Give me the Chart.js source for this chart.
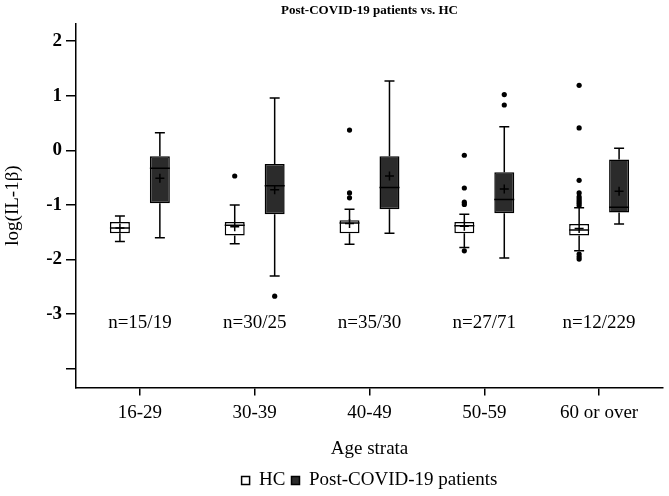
<!DOCTYPE html>
<html>
<head>
<meta charset="utf-8">
<title>Post-COVID-19 patients vs. HC</title>
<script src="https://cdn.jsdelivr.net/npm/chart.js@4.4.1/dist/chart.umd.min.js"></script>
<style>
  html, body { margin: 0; padding: 0; background: #fff; }
</style>
</head>
<body>
<canvas id="boxChart" width="669" height="496"></canvas>
<script>
// === data (log(IL-1β)) ===
const ageGroups = ["16-29", "30-39", "40-49", "50-59", "60 or over"];
const nLabels = ["n=15/19", "n=30/25", "n=35/30", "n=27/71", "n=12/229"];

// healthy controls
const hcLow    = [-1.67, -1.71, -1.72, -1.78, -1.84];
const hcQ1     = [-1.52, -1.56, -1.52, -1.52, -1.56];
const hcMedian = [-1.42, -1.37, -1.33, -1.38, -1.46];
const hcQ3     = [-1.31, -1.31, -1.28, -1.31, -1.35];
const hcHigh   = [-1.20, -1.00, -1.08, -1.17, -1.05];
const hcMean   = [-1.42, -1.40, -1.34, -1.39, -1.43];
const hcOutliers = [
    [],
    [-0.47],
    [0.37, -0.78, -0.87],
    [-0.09, -0.69, -0.95, -0.99, -1.84],
    [1.19, 0.41, -0.55, -0.78, -0.85, -0.89, -0.93, -0.97, -1.01, -1.90, -1.95, -1.99]
];

// post-COVID-19 patients
const pcLow    = [-1.60, -2.30, -1.52, -1.97, -1.35];
const pcQ1     = [-0.97, -1.17, -1.08, -1.15, -1.14];
const pcMedian = [-0.33, -0.65, -0.68, -0.90, -1.04];
const pcQ3     = [-0.11, -0.25, -0.11, -0.40, -0.17];
const pcHigh   = [0.32, 0.96, 1.27, 0.43, 0.04];
const pcMean   = [-0.51, -0.72, -0.47, -0.71, -0.75];
const pcOutliers = [[], [-2.67], [], [1.02, 0.83], []];

const yTicks = [-4, -3, -2, -1, 0, 1, 2];

// === layout constants ===
const BOX_SHIFT = 0.174;      // box centre offset from the category, in category units
const N_LABEL_VALUE = -3.17;  // y value where the n= labels sit
const FONT = "'Liberation Serif', 'Times New Roman', serif";

Chart.defaults.font.family = FONT;
Chart.defaults.color = "#000";

// helpers
const boxData = (q1, q3) => q1.map((v, i) => ({ x: i, y: [v, q3[i]] }));
const pointData = (vals, shift) => vals.map((v, i) => ({ x: i + shift, y: v }));
const outlierData = (groups, shift) =>
    groups.flatMap((vals, i) => vals.map(v => ({ x: i + shift, y: v })));

// whiskers, medians and n= labels, placed with the chart's own scales
const boxWhiskers = {
    id: "boxWhiskers",
    afterDatasetsDraw(chart) {
        const { ctx, scales: { x, y } } = chart;
        const groups = [
            { meta: 0, lo: hcLow, hi: hcHigh, med: hcMedian, q1: hcQ1, q3: hcQ3 },
            { meta: 1, lo: pcLow, hi: pcHigh, med: pcMedian, q1: pcQ1, q3: pcQ3 }
        ];
        ctx.save();
        ctx.strokeStyle = "#000";
        ctx.lineWidth = 1.5;
        groups.forEach(g => {
            chart.getDatasetMeta(g.meta).data.forEach((bar, i) => {
                const cx = bar.x;
                const half = bar.width / 2;
                const cap = half / 2;
                const yLo = y.getPixelForValue(g.lo[i]);
                const yHi = y.getPixelForValue(g.hi[i]);
                const yQ1 = y.getPixelForValue(g.q1[i]);
                const yQ3 = y.getPixelForValue(g.q3[i]);
                const yMed = y.getPixelForValue(g.med[i]);
                ctx.beginPath();
                // whiskers
                ctx.moveTo(cx, yQ3); ctx.lineTo(cx, yHi);
                ctx.moveTo(cx - cap, yHi); ctx.lineTo(cx + cap, yHi);
                ctx.moveTo(cx, yQ1); ctx.lineTo(cx, yLo);
                ctx.moveTo(cx - cap, yLo); ctx.lineTo(cx + cap, yLo);
                // median
                ctx.moveTo(cx - half, yMed); ctx.lineTo(cx + half, yMed);
                ctx.stroke();
            });
        });
        // sample sizes
        ctx.fillStyle = "#000";
        ctx.font = "19px " + FONT;
        ctx.textAlign = "center";
        ctx.textBaseline = "middle";
        nLabels.forEach((t, i) => {
            ctx.fillText(t, x.getPixelForValue(i), y.getPixelForValue(N_LABEL_VALUE));
        });
        ctx.restore();
    }
};

const ctx = document.getElementById("boxChart").getContext("2d");

new Chart(ctx, {
    type: "bar",
    data: {
        datasets: [
            {
                label: "HC",
                data: boxData(hcQ1, hcQ3),
                backgroundColor: "#ffffff",
                borderColor: "#000000",
                borderWidth: 1.5,
                borderSkipped: false,
                order: 2
            },
            {
                label: "Post-COVID-19 patients",
                data: boxData(pcQ1, pcQ3),
                backgroundColor: "#2b2b2b",
                borderColor: "#000000",
                borderWidth: 1.5,
                borderSkipped: false,
                order: 2
            },
            {
                type: "scatter",
                label: "HC mean",
                data: pointData(hcMean, -BOX_SHIFT),
                pointStyle: "cross",
                pointRadius: 4.5,
                borderColor: "#000",
                borderWidth: 1.5,
                order: 1
            },
            {
                type: "scatter",
                label: "Post-COVID-19 mean",
                data: pointData(pcMean, BOX_SHIFT),
                pointStyle: "cross",
                pointRadius: 4.5,
                borderColor: "#000",
                borderWidth: 1.5,
                order: 1
            },
            {
                type: "scatter",
                label: "HC outliers",
                data: outlierData(hcOutliers, -BOX_SHIFT),
                pointRadius: 2.6,
                backgroundColor: "#000",
                borderWidth: 0,
                order: 1
            },
            {
                type: "scatter",
                label: "Post-COVID-19 outliers",
                data: outlierData(pcOutliers, BOX_SHIFT),
                pointRadius: 2.6,
                backgroundColor: "#000",
                borderWidth: 0,
                order: 1
            }
        ]
    },
    options: {
        responsive: false,
        animation: false,
        categoryPercentage: 4 * BOX_SHIFT,
        barPercentage: 0.5,
        layout: { padding: { left: 0, right: 5, top: 0, bottom: -4 } },
        plugins: {
            title: {
                display: true,
                text: "Post-COVID-19 patients vs. HC",
                fullSize: false,
                font: { size: 13, weight: "bold" },
                padding: { top: 3, bottom: 5 }
            },
            legend: {
                position: "bottom",
                fullSize: false,
                labels: {
                    boxWidth: 8,
                    boxHeight: 8,
                    padding: 6,
                    font: { size: 19 },
                    filter: item => item.datasetIndex < 2
                }
            },
            tooltip: { enabled: false }
        },
        scales: {
            x: {
                type: "linear",
                min: -0.5565,
                max: 4.5565,
                offset: false,
                grid: {
                    offset: false,
                    drawOnChartArea: false,
                    tickLength: 8,
                    color: "#000",
                    lineWidth: 1.5
                },
                border: { display: true, color: "#000", width: 1.5 },
                ticks: {
                    stepSize: 1,
                    includeBounds: false,
                    padding: 6,
                    font: { size: 19 },
                    callback: v => ageGroups[v] ?? ""
                },
                title: {
                    display: true,
                    text: "Age strata",
                    font: { size: 19 },
                    padding: { top: 7, bottom: 5 }
                }
            },
            y: {
                min: -4.34,
                max: 2.32,
                beginAtZero: false,
                afterFit: scale => { scale.width = 76; },
                grid: {
                    drawOnChartArea: false,
                    tickLength: 10,
                    color: "#000",
                    lineWidth: 1.5
                },
                border: { display: true, color: "#000", width: 1.5 },
                ticks: {
                    stepSize: 1,
                    includeBounds: false,
                    padding: 4,
                    font: { size: 19, weight: "bold" },
                    callback: v => (yTicks.includes(v) && v !== -4 ? String(v) : "")
                },
                title: {
                    display: true,
                    text: "log(IL-1β)",
                    font: { size: 19 },
                    padding: { top: 2, bottom: 0 }
                }
            }
        }
    },
    plugins: [boxWhiskers]
});
</script>
</body>
</html>
